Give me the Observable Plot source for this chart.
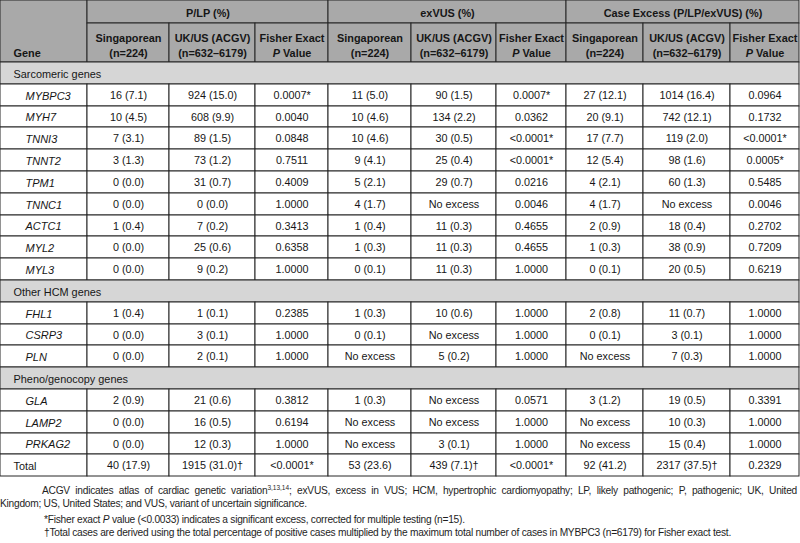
<!DOCTYPE html>
<html><head><meta charset="utf-8">
<script src="https://cdn.jsdelivr.net/npm/d3@7"></script>
<script src="https://cdn.jsdelivr.net/npm/@observablehq/plot@0.6"></script>
<style>
body{margin:0;background:#fff;font-family:"Liberation Sans",Arial,Helvetica,sans-serif;}
#chart svg{display:block;}
#notes{font-size:10.2px;letter-spacing:-0.25px;color:#1e1e1e;width:800px;line-height:13px;margin-top:6px;}
#notes .l{display:block;white-space:nowrap;}
#notes .j{text-align:justify;text-align-last:justify;white-space:normal;}
#notes sup{font-size:6.5px;line-height:0;vertical-align:4px;letter-spacing:0;}
#notes .gap{margin-top:3px;}
</style></head><body>
<div id="chart"></div>
<div id="notes"></div>
<script>
// ---------- data ----------
const groupHeaders = ["P/LP (%)", "exVUS (%)", "Case Excess (P/LP/exVUS) (%)"];
const subHeaders = ["Singaporean\n(n=224)", "UK/US (ACGV)\n(n=632–6179)", "Fisher Exact\nP Value"];
const geneHeader = "Gene";
const sections = ["Sarcomeric genes", "Other HCM genes", "Pheno/genocopy genes"];
const genes = ["MYBPC3","MYH7","TNNI3","TNNT2","TPM1","TNNC1","ACTC1","MYL2","MYL3","FHL1","CSRP3","PLN","GLA","LAMP2","PRKAG2"];
const geneSection = [0,0,0,0,0,0,0,0,0,1,1,1,2,2,2];
const plpSingapore = ["16 (7.1)","10 (4.5)","7 (3.1)","3 (1.3)","0 (0.0)","0 (0.0)","1 (0.4)","0 (0.0)","0 (0.0)","1 (0.4)","0 (0.0)","0 (0.0)","2 (0.9)","0 (0.0)","0 (0.0)"];
const plpUKUS = ["924 (15.0)","608 (9.9)","89 (1.5)","73 (1.2)","31 (0.7)","0 (0.0)","7 (0.2)","25 (0.6)","9 (0.2)","1 (0.1)","3 (0.1)","2 (0.1)","21 (0.6)","16 (0.5)","12 (0.3)"];
const plpP = ["0.0007*","0.0040","0.0848","0.7511","0.4009","1.0000","0.3413","0.6358","1.0000","0.2385","1.0000","1.0000","0.3812","0.6194","1.0000"];
const exSingapore = ["11 (5.0)","10 (4.6)","10 (4.6)","9 (4.1)","5 (2.1)","4 (1.7)","1 (0.4)","1 (0.3)","0 (0.1)","1 (0.3)","0 (0.1)","No excess","1 (0.3)","No excess","No excess"];
const exUKUS = ["90 (1.5)","134 (2.2)","30 (0.5)","25 (0.4)","29 (0.7)","No excess","11 (0.3)","11 (0.3)","11 (0.3)","10 (0.6)","No excess","5 (0.2)","No excess","No excess","3 (0.1)"];
const exP = ["0.0007*","0.0362","<0.0001*","<0.0001*","0.0216","0.0046","0.4655","0.4655","1.0000","1.0000","1.0000","1.0000","0.0571","1.0000","1.0000"];
const caseSingapore = ["27 (12.1)","20 (9.1)","17 (7.7)","12 (5.4)","4 (2.1)","4 (1.7)","2 (0.9)","1 (0.3)","0 (0.1)","2 (0.8)","0 (0.1)","No excess","3 (1.2)","No excess","No excess"];
const caseUKUS = ["1014 (16.4)","742 (12.1)","119 (2.0)","98 (1.6)","60 (1.3)","No excess","18 (0.4)","38 (0.9)","20 (0.5)","11 (0.7)","3 (0.1)","7 (0.3)","19 (0.5)","10 (0.3)","15 (0.4)"];
const caseP = ["0.0964","0.1732","<0.0001*","0.0005*","0.5485","0.0046","0.2702","0.7209","0.6219","1.0000","1.0000","1.0000","0.3391","1.0000","1.0000"];
const totalLabel = "Total";
const totals = ["40 (17.9)","1915 (31.0)†","<0.0001*","53 (23.6)","439 (7.1)†","<0.0001*","92 (41.2)","2317 (37.5)†","0.2329"];
const notes = [
  'ACGV indicates atlas of cardiac genetic variation<sup>3,13,14</sup>; exVUS, excess in VUS; HCM, hypertrophic cardiomyopathy; LP, likely pathogenic; P, pathogenic; UK, United',
  'Kingdom; US, United States; and VUS, variant of uncertain significance.',
  '*Fisher exact <i>P</i> value (&lt;0.0033) indicates a significant excess, corrected for multiple testing (n=15).',
  '†Total cases are derived using the total percentage of positive cases multiplied by the maximum total number of cases in MYBPC3 (n=6179) for Fisher exact test.'
];

// ---------- layout ----------
const W = 800, H = 478;
const colEdges = [0, 87, 169, 255, 328, 411, 496, 566, 643, 730, 799];
const headEdges = [0, 23, 62];
const rowH = 21.8;
const headFill = "#a9a9a9", sectFill = "#d6d6d6", bodyFill = "#ffffff", line = "#262626";
const valueCols = [plpSingapore, plpUKUS, plpP, exSingapore, exUKUS, exP, caseSingapore, caseUKUS, caseP];

const cells = [];
const tBold = [], tBody = [], tGene = [];
// header
cells.push({x1: colEdges[0], x2: colEdges[1], y1: headEdges[0], y2: headEdges[2], fill: headFill});
tBold.push({x: colEdges[0] + 13, y: headEdges[2] - 10, text: geneHeader, anchor: "start"});
groupHeaders.forEach((g, i) => {
  const x1 = colEdges[1 + 3*i], x2 = colEdges[4 + 3*i];
  cells.push({x1, x2, y1: headEdges[0], y2: headEdges[1], fill: headFill});
  tBold.push({x: (x1 + x2)/2, y: (headEdges[0] + headEdges[1])/2 + 0.5, text: g, anchor: "middle"});
});
for (let c = 0; c < 9; c++) {
  const x1 = colEdges[1 + c], x2 = colEdges[2 + c];
  cells.push({x1, x2, y1: headEdges[1], y2: headEdges[2], fill: headFill});
  tBold.push({x: (x1 + x2)/2, y: (headEdges[1] + headEdges[2])/2 + 2, text: subHeaders[c % 3], anchor: "middle"});
}
// body rows
const rows = [];
sections.forEach((s, si) => {
  rows.push({type: "section", label: s});
  genes.forEach((g, gi) => { if (geneSection[gi] === si) rows.push({type: "gene", idx: gi}); });
});
rows.push({type: "total"});
rows.forEach((r, i) => {
  const y1 = Math.round(headEdges[2] + i*rowH), y2 = Math.round(headEdges[2] + (i+1)*rowH);
  const ym = (y1 + y2)/2 + 0.5;
  if (r.type === "section") {
    cells.push({x1: colEdges[0], x2: colEdges[10], y1, y2, fill: sectFill});
    tBody.push({x: colEdges[0] + 13, y: ym, text: r.label, anchor: "start"});
    return;
  }
  cells.push({x1: colEdges[0], x2: colEdges[1], y1, y2, fill: bodyFill});
  if (r.type === "gene") tGene.push({x: colEdges[0] + 25, y: ym, text: genes[r.idx], anchor: "start"});
  else tBody.push({x: colEdges[0] + 13, y: ym, text: totalLabel, anchor: "start"});
  for (let c = 0; c < 9; c++) {
    const x1 = colEdges[1 + c], x2 = colEdges[2 + c];
    cells.push({x1, x2, y1, y2, fill: bodyFill});
    const v = r.type === "gene" ? valueCols[c][r.idx] : totals[c];
    tBody.push({x: (x1 + x2)/2, y: ym, text: v, anchor: "middle"});
  }
});

const textOpts = (extra) => Object.assign({x: "x", y: "y", text: "text", fill: "#161616", stroke: null}, extra);

const chart = Plot.plot({
  width: W, height: H,
  margin: 0,
  x: {type: "linear", domain: [0, W], range: [0, W], axis: null},
  y: {type: "linear", domain: [0, H], range: [0, H], axis: null},
  style: {fontFamily: '"Liberation Sans", Arial, Helvetica, sans-serif', background: "#fff"},
  marks: [
    Plot.rect(cells, {x1: "x1", x2: "x2", y1: "y1", y2: "y2", fill: "fill", stroke: line, strokeWidth: 1}),
    Plot.text(tBold.filter(d => d.anchor === "start"), textOpts({textAnchor: "start", fontWeight: "bold", fontSize: 10.9, lineHeight: 1.38})),
    Plot.text(tBold.filter(d => d.anchor === "middle"), textOpts({textAnchor: "middle", fontWeight: "bold", fontSize: 10.9, lineHeight: 1.38})),
    Plot.text(tBody.filter(d => d.anchor === "start"), textOpts({textAnchor: "start", fontSize: 10.9})),
    Plot.text(tBody.filter(d => d.anchor === "middle"), textOpts({textAnchor: "middle", fontSize: 10.8})),
    Plot.text(tGene, textOpts({textAnchor: "start", fontSize: 11, fontStyle: "italic"}))
  ]
});
chart.querySelectorAll("tspan, text").forEach(t => {
  if (t.childElementCount === 0 && t.textContent === "P Value") {
    t.innerHTML = '<tspan font-style="italic">P</tspan> Value';
  }
});
document.getElementById("chart").appendChild(chart);

const nd = document.getElementById("notes");
nd.innerHTML =
  `<span class="l j" style="padding-left:42px;width:755px">${notes[0]}</span>` +
  `<span class="l">${notes[1]}</span>` +
  `<span class="l gap" style="padding-left:44px">${notes[2]}</span>` +
  `<span class="l" style="padding-left:44px">${notes[3]}</span>`;
</script></body></html>
